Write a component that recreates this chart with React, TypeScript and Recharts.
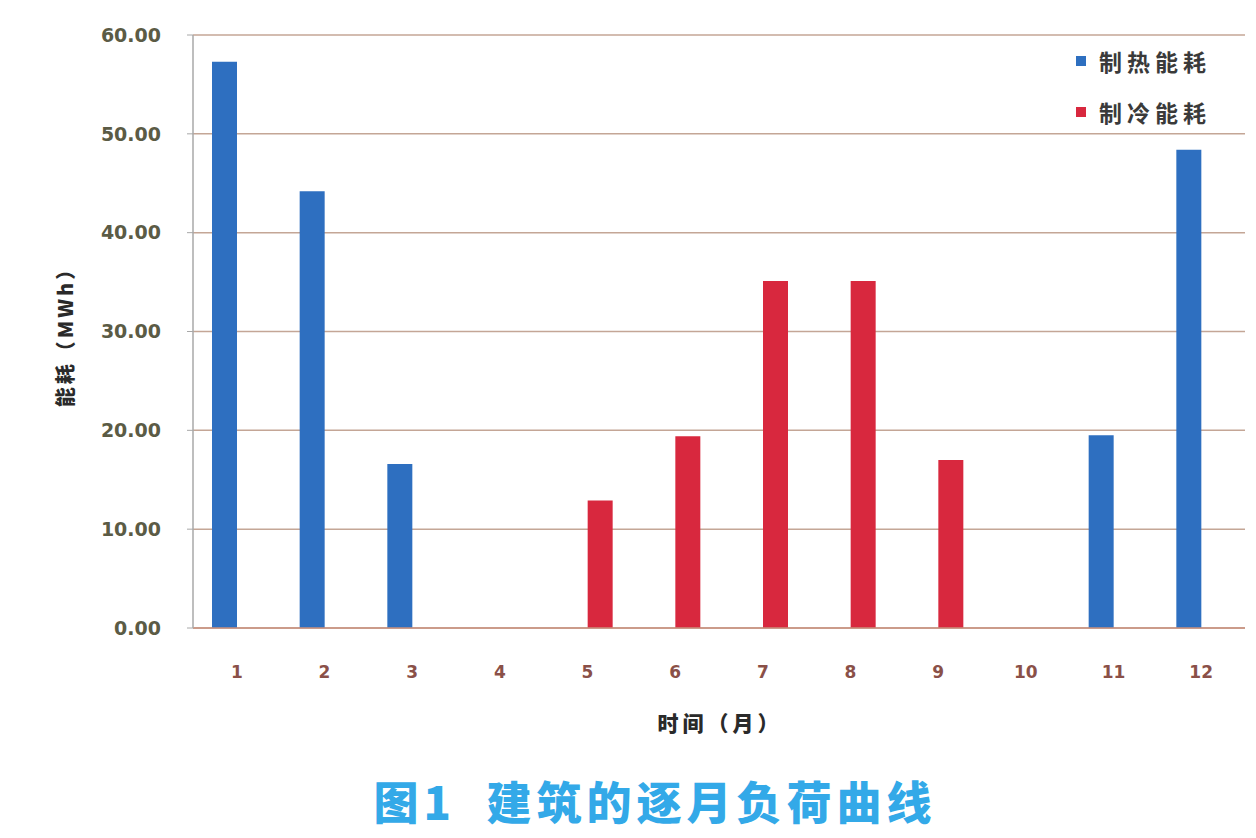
import React from 'react';
import { BarChart, Bar, XAxis, YAxis, CartesianGrid } from 'recharts';

const months = ['1', '2', '3', '4', '5', '6', '7', '8', '9', '10', '11', '12'];
const heating = [57.3, 44.2, 16.6, 0, 0, 0, 0, 0, 0, 0, 19.5, 48.4];
const cooling = [0, 0, 0, 0, 12.9, 19.4, 35.1, 35.1, 17.0, 0, 0, 0];
const yTicks = [0, 10, 20, 30, 40, 50, 60];

const HEAT = '#2e6fc0';
const COOL = '#d8283e';
const CJK = '"Noto Sans CJK SC", "Noto Sans", sans-serif';

const data = months.map((m, i) => ({ month: m, heat: heating[i], cool: cooling[i] }));

const legendItems = [
  { name: '制热能耗', color: HEAT },
  { name: '制冷能耗', color: COOL },
];

// legend sits inside the plot, top right, so it is drawn outside recharts' layout
const LegendBox = () => (
  <div style={{ position: 'absolute', left: 1076, top: 35, fontFamily: CJK }}>
    {legendItems.map((it) => (
      <div key={it.name} style={{ display: 'flex', alignItems: 'center', height: 51 }}>
        <span style={{ width: 10, height: 10, background: it.color, marginRight: 13 }} />
        <span style={{ fontSize: 23, fontWeight: 700, color: '#3a3a3a', letterSpacing: 5 }}>{it.name}</span>
      </div>
    ))}
  </div>
);

export default function App() {
  return (
    <div style={{ position: 'absolute', left: 0, top: 0, width: 1256, height: 838, background: '#fff', overflow: 'hidden' }}>
      <BarChart
        width={1256}
        height={760}
        data={data}
        margin={{ top: 35, right: 11, left: 0, bottom: 62 }}
        barGap={0}
        barSize={25}
      >
        <CartesianGrid vertical={false} stroke="#c4a696" strokeWidth={1.5} />
        <XAxis
          dataKey="month"
          height={70}
          axisLine={{ stroke: '#c9907e', strokeWidth: 1.5 }}
          tickLine={false}
          tickSize={0}
          tickMargin={38}
          tick={{ fontSize: 17, fontWeight: 700, fill: '#8a5048', fontFamily: 'DejaVu Sans' }}
        />
        <YAxis
          width={193}
          domain={[0, 60]}
          ticks={yTicks}
          interval={0}
          tickFormatter={(v: number) => v.toFixed(2)}
          axisLine={{ stroke: '#a8a8a8', strokeWidth: 1.5 }}
          tickLine={{ stroke: '#a8a8a8' }}
          tickSize={6}
          tickMargin={26}
          tick={{ fontSize: 19, fontWeight: 700, fill: '#5b5b45', fontFamily: 'DejaVu Sans' }}
        />
        <Bar dataKey="heat" name="制热能耗" fill={HEAT} isAnimationActive={false} />
        <Bar dataKey="cool" name="制冷能耗" fill={COOL} isAnimationActive={false} />
      </BarChart>
      <LegendBox />
      <div
        style={{
          position: 'absolute', left: 64, top: 332, transform: 'translate(-50%, -50%) rotate(-90deg)',
          whiteSpace: 'nowrap', fontFamily: CJK, fontSize: 20, fontWeight: 900, color: '#2a2a2a', letterSpacing: 3,
        }}
      >
        能耗（MWh）
      </div>
      <div
        style={{
          position: 'absolute', left: 720, top: 722, transform: 'translate(-50%, -50%)',
          whiteSpace: 'nowrap', fontFamily: CJK, fontSize: 21, fontWeight: 900, color: '#2a2a2a', letterSpacing: 4,
        }}
      >
        时间（月）
      </div>
      <div
        style={{
          position: 'absolute', left: 655, top: 800, transform: 'translate(-50%, -50%)',
          whiteSpace: 'nowrap', fontFamily: CJK, fontSize: 45, fontWeight: 900, color: '#33a9e8', letterSpacing: 5,
        }}
      >
        图1&nbsp;&nbsp;建筑的逐月负荷曲线
      </div>
    </div>
  );
}
